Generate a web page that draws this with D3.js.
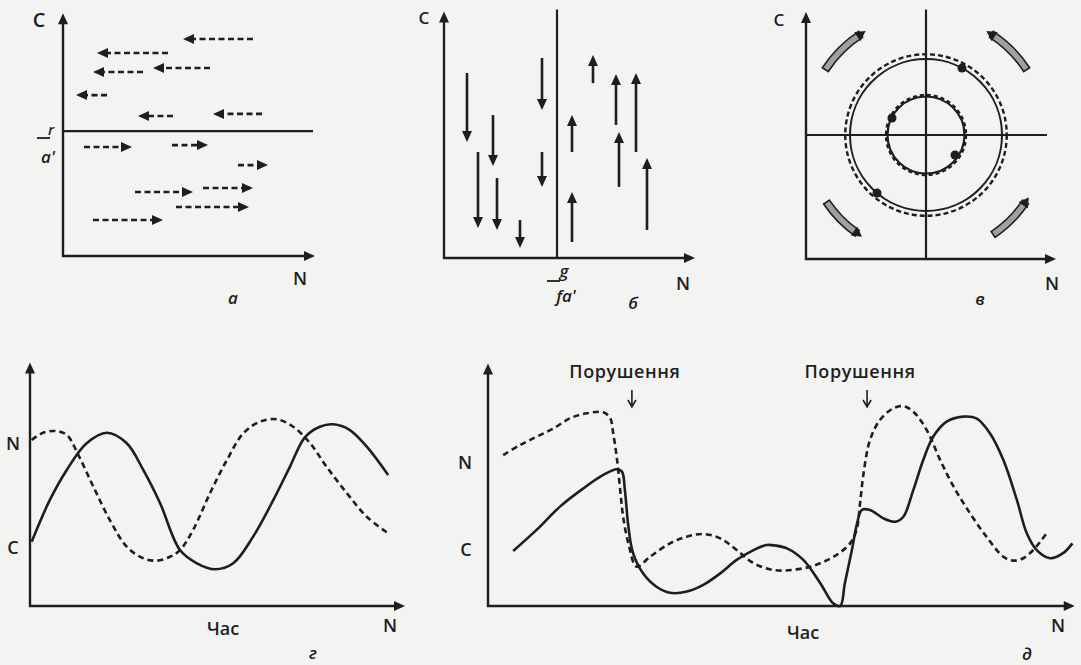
<!DOCTYPE html>
<html><head><meta charset="utf-8">
<script src="https://cdn.jsdelivr.net/npm/d3@7"></script>
<style>
html,body{margin:0;padding:0;background:#f3f3f1;}
svg{display:block;}
text{font-family:"Open Sans","Noto Sans",sans-serif;fill:#1e1e1e;}
</style></head><body>
<svg id="chart" width="1081" height="665"></svg>
<script>
// ================= DATA =================
// Panel а : isocline of predator (C = r/a'), horizontal arrows show change of prey N
const aIsocline = 52.5;
const aLeftY    = [91.2, 85.3, 77.3, 79.0, 67.6, 58.8, 59.7];
const aLeftFrom = [76.0, 42.0, 32.0, 58.8, 17.6, 44.0, 79.6];
const aLeftTo   = [48.0, 13.6, 12.0, 36.0, 5.2, 30.0, 60.0];
const aRightY    = [45.8, 46.6, 38.2, 26.9, 28.6, 20.6, 15.1];
const aRightFrom = [8.4, 43.6, 70.0, 28.8, 56.0, 45.2, 12.0];
const aRightTo   = [27.6, 58.0, 82.0, 52.0, 76.0, 74.4, 40.0];

// Panel б : isocline N = g/(fa'), vertical arrows show change of predator C
const bIsocline = 45.2;
const bDownX    = [9.2, 13.6, 19.6, 21.2, 30.4, 39.2, 39.2];
const bDownFrom = [75.2, 43.1, 58.1, 32.5, 15.4, 81.3, 43.1];
const bDownTo   = [47.2, 12.2, 37.4, 11.4, 4.1, 60.2, 28.9];
const bUpX    = [59.6, 51.2, 51.2, 68.8, 70.0, 76.8, 81.2];
const bUpFrom = [71.1, 43.1, 6.5, 54.1, 28.9, 43.1, 11.4];
const bUpTo   = [82.5, 58.1, 26.8, 74.8, 51.2, 75.2, 40.7];

// Panel в : joint isoclines, cycles around equilibrium
const vEquilibrium = [48, 50.2];
const vOrbitRadii = [32.3, 30.4, 15.4];      // dashed outer, solid outer, inner
const vMarkX = [62.4, 28.4, 34.4, 59.6];
const vMarkY = [77.3, 26.7, 57.1, 42.1];
const vTurnStart = [-57, 57, 146, 236];       // degrees, clockwise from 12 o'clock
const vTurnEnd   = [-33, 33, 124, 215];       // arrow head end
const vTurnRadius = 48;

// Panel г : oscillations in time
const gTimeC = [0.45,5.3,9.8,15.1,20.5,25.8,30.2,34.7,40,44.5,49.3,54.2,59.5,64.9,69.3,73.3,77.3,80.9,85.3,89.8,95.5];
const gC     = [26.8,44.2,56.7,67.8,72.2,67.8,56.7,42.8,23.3,17.8,15.3,17.8,28.9,44.2,58,70.3,74.7,75.7,73.3,66.4,54.6];
const gTimeN = [0.45,3.5,6.7,9.8,12.9,16.9,21.3,25.8,30.2,33.8,37.3,40,43.5,48,52.5,56.9,61.3,65.8,70.2,74.7,79.1,84.5,89.8,95.5];
const gN     = [69.2,72.2,72.9,71.3,62.9,49.7,35.8,24.7,19.9,18.9,20.5,23.3,31.7,47,60.8,72,76.8,77.8,74.7,67.8,58,47,37.2,30.3];

// Panel д : oscillations with disturbances
const dDisturb = [24.6, 64.8];
const dTimeC = [4.3,8.3,12.3,16.3,19.7,22.0,22.9,23.4,24.0,24.8,26.5,28.8,31.1,34.0,36.8,39.7,42.5,45.4,47.6,49.1,51.1,53.9,56.8,59.0,60.2,61.0,62.2,63.1,63.9,65.3,67.6,69.6,71.0,72.7,74.4,76.1,78.4,81.2,83.5,85.8,88.1,90.4,92.1,93.8,96.1,98.3,99.9];
const dC     = [22.9,31.7,41.4,49.0,54.6,57.0,56.0,48.3,33.0,22.0,13.6,8.0,5.5,6.0,8.8,13.6,19.2,23.3,25.4,25.2,24.0,19.2,9.5,1.1,0,9.5,23.3,34.5,40,40,36.5,35.1,37.2,48.3,60.8,70.5,76.8,78.9,78.2,72.0,60.8,44.2,30.3,23.3,19.9,22.0,26.1];
const dTimeN = [2.6,5.5,8.3,11.2,14.0,16.9,19.7,20.9,21.4,22.0,22.6,23.1,24.0,25.4,27.7,31.1,34.0,36.8,39.7,42.5,45.4,49.1,53.9,56.8,59.6,61.9,63.0,63.6,64.2,65.3,67.0,69.3,71.0,72.7,75.0,77.3,79.6,82.4,85.2,88.1,89.8,91.5,93.2,94.4,95.5];
const dN     = [62.9,67.1,70.5,74.0,78.2,80.3,80.7,78.2,72.0,62.2,48.3,37.2,26.1,16.4,20.5,26.1,28.9,30.0,28.2,23.3,17.8,14.9,15.7,17.8,21.3,26.1,31.7,42.8,55.3,69.2,77.5,82.4,83.3,81.0,73.3,60.8,49.7,38.6,28.9,20.5,18.9,19.9,23.3,26.8,30.3];

// ================= DRAWING =================
const INK = "#1e1e1e";
const svg = d3.select("#chart");
svg.append("rect").attr("width",1081).attr("height",665).attr("fill","#f3f3f1");

function head(g, x, y, dx, dy, len, w) {
  const L = Math.hypot(dx, dy); dx /= L; dy /= L;
  const bx = x - dx*len, by = y - dy*len, px = -dy, py = dx;
  g.append("path")
    .attr("d", `M${x},${y}L${bx+px*w/2},${by+py*w/2}L${bx-px*w/2},${by-py*w/2}Z`)
    .attr("fill", INK);
}
function frame(g, x, y, xTip, yTip) {
  const x0 = x(0), y0 = y(0);
  g.append("line").attr("x1",x0).attr("y1",y0+1).attr("x2",x0).attr("y2",y(yTip)+6)
    .attr("stroke",INK).attr("stroke-width",2.4);
  g.append("line").attr("x1",x0-1).attr("y1",y0).attr("x2",x(xTip)-6).attr("y2",y0)
    .attr("stroke",INK).attr("stroke-width",2.4);
  head(g, x0, y(yTip), 0, -1, 11, 10);
  head(g, x(xTip), y0, 1, 0, 11, 10);
}
function label(g, txt, px, py, opt={}) {
  const t = g.append("text").attr("x",px).attr("y",py).text(txt)
    .attr("text-anchor", opt.anchor || "middle")
    .attr("font-size", opt.size || 18)
    .attr("font-weight", opt.weight || 600)
    .attr("font-style", opt.italic ? "italic" : "normal");
  if (opt.spacing) t.attr("letter-spacing", opt.spacing);
  return t;
}

// ---------- Panel а ----------
{
  const g = svg.append("g");
  const x = d3.scaleLinear([0,100],[63,313]);
  const y = d3.scaleLinear([0,100],[256,18]);
  frame(g, x, y, 100.8, 102);
  g.append("line").attr("x1",x(0)).attr("x2",x(100)).attr("y1",y(aIsocline)).attr("y2",y(aIsocline))
    .attr("stroke",INK).attr("stroke-width",2.2);
  const drawH = (from, to, yy) => {
    const dir = Math.sign(to - from);
    g.append("line").attr("x1",x(from)).attr("x2",x(to)-dir*8).attr("y1",y(yy)).attr("y2",y(yy))
      .attr("stroke",INK).attr("stroke-width",2.6).attr("stroke-dasharray","6,3.5");
    head(g, x(to), y(yy), dir, 0, 11, 10);
  };
  aLeftY.forEach((v,i)=>drawH(aLeftFrom[i], aLeftTo[i], v));
  aRightY.forEach((v,i)=>drawH(aRightFrom[i], aRightTo[i], v));
  label(g, "C", 39, 27, {size:20});
  label(g, "N", 300, 285);
  label(g, "а", 233, 304, {italic:true, size:17});
  const yi = y(aIsocline);
  g.append("line").attr("x1",37).attr("x2",50).attr("y1",yi+7).attr("y2",yi+7).attr("stroke",INK).attr("stroke-width",1.8);
  label(g, "r", 51, yi+4, {italic:true, size:15});
  label(g, "a'", 48, yi+32, {italic:true, size:17});
}

// ---------- Panel б ----------
{
  const g = svg.append("g");
  const x = d3.scaleLinear([0,100],[444,694]);
  const y = d3.scaleLinear([0,100],[258,12]);
  frame(g, x, y, 100.4, 100.2);
  g.append("line").attr("x1",x(bIsocline)).attr("x2",x(bIsocline)).attr("y1",y(0)).attr("y2",y(101))
    .attr("stroke",INK).attr("stroke-width",2.2);
  const drawV = (xx, from, to) => {
    const dir = Math.sign(to - from); // +1 upward in data
    g.append("line").attr("x1",x(xx)).attr("x2",x(xx)).attr("y1",y(from)).attr("y2",y(to)+dir*8)
      .attr("stroke",INK).attr("stroke-width",2.6);
    head(g, x(xx), y(to), 0, -dir, 11, 10);
  };
  bDownX.forEach((v,i)=>drawV(v, bDownFrom[i], bDownTo[i]));
  bUpX.forEach((v,i)=>drawV(v, bUpFrom[i], bUpTo[i]));
  label(g, "C", 424, 24, {size:17});
  label(g, "N", 683, 290);
  label(g, "б", 633, 309, {italic:true, size:17});
  const xi = x(bIsocline);
  g.append("line").attr("x1",xi-10).attr("x2",xi+3).attr("y1",281).attr("y2",281).attr("stroke",INK).attr("stroke-width",1.8);
  label(g, "g", xi+7, 277, {italic:true, size:17});
  label(g, "fa'", xi+9, 302, {italic:true, size:17});
}

// ---------- Panel в ----------
{
  const g = svg.append("g");
  const x = d3.scaleLinear([0,100],[806,1056]);
  const y = d3.scaleLinear([0,100],[259,12]);
  frame(g, x, y, 100, 100);
  const cx = x(vEquilibrium[0]), cy = y(vEquilibrium[1]);
  g.append("line").attr("x1",cx).attr("x2",cx).attr("y1",y(0)).attr("y2",y(101)).attr("stroke",INK).attr("stroke-width",2.2);
  g.append("line").attr("x1",x(0)).attr("x2",x(96.4)).attr("y1",cy).attr("y2",cy).attr("stroke",INK).attr("stroke-width",2.2);
  const R = r => x(r) - x(0);
  g.append("circle").attr("cx",cx).attr("cy",cy).attr("r",R(vOrbitRadii[0])).attr("fill","none")
    .attr("stroke",INK).attr("stroke-width",2.4).attr("stroke-dasharray","5,3");
  g.append("circle").attr("cx",cx).attr("cy",cy).attr("r",R(vOrbitRadii[1])).attr("fill","none")
    .attr("stroke",INK).attr("stroke-width",2);
  g.append("circle").attr("cx",cx).attr("cy",cy).attr("r",R(vOrbitRadii[2])).attr("fill","none")
    .attr("stroke",INK).attr("stroke-width",2.2);
  g.append("circle").attr("cx",cx).attr("cy",cy).attr("r",R(vOrbitRadii[2])+1.5).attr("fill","none")
    .attr("stroke",INK).attr("stroke-width",2.4).attr("stroke-dasharray","4,3");
  vMarkX.forEach((v,i)=>g.append("circle").attr("cx",x(v)).attr("cy",y(vMarkY[i])).attr("r",4.5).attr("fill",INK));
  const rr = R(vTurnRadius);
  const arc = d3.arc().innerRadius(rr-3.5).outerRadius(rr+3.5);
  vTurnStart.forEach((s,i)=>{
    const e = vTurnEnd[i];
    const a0 = Math.min(s,e)*Math.PI/180, a1 = Math.max(s,e)*Math.PI/180;
    g.append("path").attr("transform",`translate(${cx},${cy})`)
      .attr("d", arc({startAngle:a0, endAngle:a1}))
      .attr("fill","#a0a0a0").attr("stroke",INK).attr("stroke-width",1.6);
    const th = e*Math.PI/180, dir = Math.sign(e - s);
    const hx = cx + Math.sin(th)*rr, hy = cy - Math.cos(th)*rr;
    head(g, hx + Math.cos(th)*dir*6, hy + Math.sin(th)*dir*6, Math.cos(th)*dir, Math.sin(th)*dir, 10, 11);
  });
  label(g, "C", 779, 26, {size:17});
  label(g, "N", 1052, 290);
  label(g, "в", 980, 305, {italic:true, size:17});
}

// ---------- Panel г ----------
{
  const g = svg.append("g");
  const x = d3.scaleLinear([0,100],[30,405]);
  const y = d3.scaleLinear([0,100],[606,366]);
  frame(g, x, y, 100, 101.5);
  const line = d3.line().curve(d3.curveCatmullRom.alpha(0.5));
  g.append("path").attr("d", line(gTimeC.map((t,i)=>[x(t), y(gC[i])])))
    .attr("fill","none").attr("stroke",INK).attr("stroke-width",2.6);
  g.append("path").attr("d", line(gTimeN.map((t,i)=>[x(t), y(gN[i])])))
    .attr("fill","none").attr("stroke",INK).attr("stroke-width",2.6).attr("stroke-dasharray","6,4");
  label(g, "N", 13, 450);
  label(g, "C", 13, 554);
  label(g, "Час", 223, 635, {size:18, weight:600});
  label(g, "N", 390, 632);
  label(g, "г", 313, 659, {italic:true, size:17});
}

// ---------- Panel д ----------
{
  const g = svg.append("g");
  const x = d3.scaleLinear([0,100],[488,1073]);
  const y = d3.scaleLinear([0,100],[606,366]);
  frame(g, x, y, 100.3, 101);
  const line = d3.line().curve(d3.curveCatmullRom.alpha(0.5));
  g.append("path").attr("d", line(dTimeC.map((t,i)=>[x(t), y(dC[i])])))
    .attr("fill","none").attr("stroke",INK).attr("stroke-width",2.6);
  g.append("path").attr("d", line(dTimeN.map((t,i)=>[x(t), y(dN[i])])))
    .attr("fill","none").attr("stroke",INK).attr("stroke-width",2.6).attr("stroke-dasharray","6,4");
  dDisturb.forEach(t=>{
    const px = x(t);
    label(g, "Порушення", px-7, 378, {size:18, weight:600, spacing:0.6});
    g.append("path").attr("d", `M${px},390V407M${px-4},400L${px},407L${px+4},400`)
      .attr("fill","none").attr("stroke",INK).attr("stroke-width",1.6);
  });
  label(g, "N", 465, 469);
  label(g, "C", 466, 556);
  label(g, "Час", 803, 639, {size:18, weight:600});
  label(g, "N", 1058, 632);
  label(g, "д", 1027, 660, {italic:true, size:17});
}
</script>
</body></html>
